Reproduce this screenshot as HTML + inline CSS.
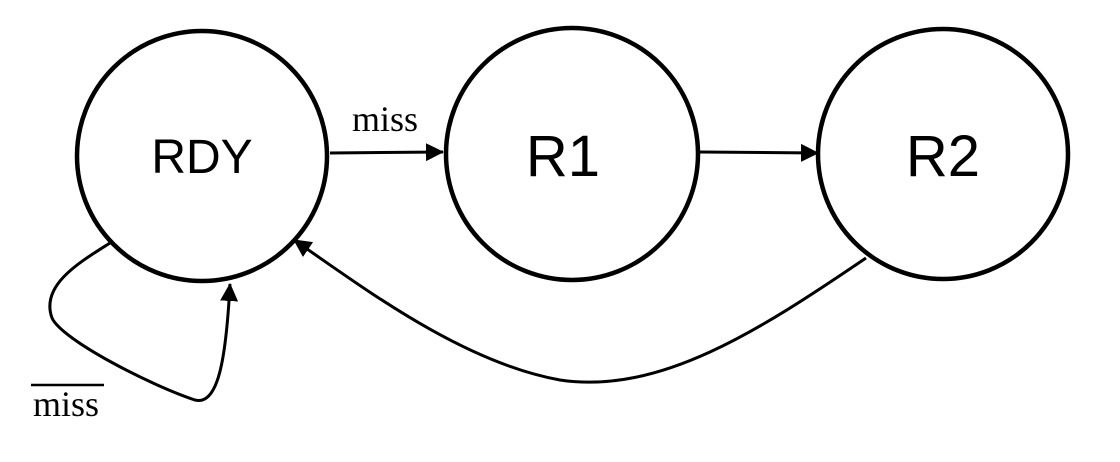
<!DOCTYPE html>
<html><head><style>body{margin:0;background:#fff}svg{display:block}</style></head><body>
<svg width="1120" height="462" viewBox="0 0 1120 462" xmlns="http://www.w3.org/2000/svg">
<defs><marker id="b" markerWidth="18" markerHeight="18" refX="17" refY="9" orient="auto" markerUnits="userSpaceOnUse" viewBox="0 0 18 18"><path d="M0,0 L18,9 L0,18z" fill="#000"/></marker></defs>
<g fill="none" stroke="#000" stroke-width="4.5">
<circle cx="202" cy="156" r="125"/>
<circle cx="572" cy="154" r="126"/>
<circle cx="943" cy="154" r="125"/>
</g>
<g fill="none" stroke="#000" stroke-width="3">
<path d="M330,153 L443,152" marker-end="url(#b)"/>
<path d="M700,152 L818,153" marker-end="url(#b)"/>
<path d="M110,243 C80,262 40,285 52,318 C62,340 150,385 195,400 C218,406 226,360 230,284" marker-end="url(#b)"/>
<path d="M866,258 C760,330 660,395 560,380 C460,362 360,285 294,240" marker-end="url(#b)"/>
</g>
<g font-family="Liberation Sans, sans-serif" text-anchor="middle" fill="#000">
<text x="202" y="173" font-size="48">RDY</text>
<text x="563" y="176" font-size="58">R1</text>
<text x="943" y="176" font-size="58">R2</text>
</g>
<g font-family="Liberation Serif, serif" font-size="36" fill="#000">
<text x="352" y="131">miss</text>
<text x="33" y="416">miss</text>
</g>
<line x1="31" y1="385" x2="104" y2="385" stroke="#000" stroke-width="2.5"/>
</svg>
</body></html>
